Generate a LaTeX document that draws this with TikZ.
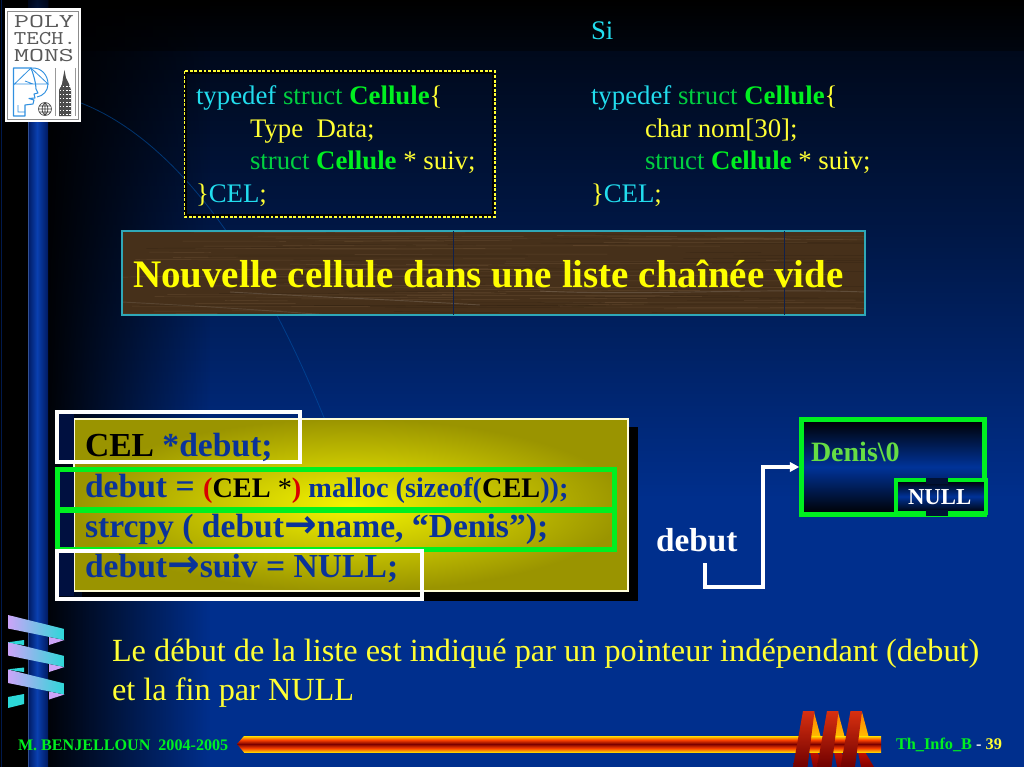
\documentclass[tikz,border=0pt]{standalone}
\usepackage{fontspec}
\setmainfont{Liberation Serif}
\newfontfamily\djv{DejaVu Sans}
\usetikzlibrary{fadings,arrows.meta}
\definecolor{bgblue}{HTML}{003399}
\definecolor{cy}{HTML}{22DDEE}
\definecolor{gr}{HTML}{00D040}
\definecolor{gb}{HTML}{00F020}
\definecolor{ye}{HTML}{FFFF33}
\definecolor{lime}{HTML}{00F020}
\definecolor{navy}{HTML}{001040}
\definecolor{pb}{HTML}{0A3399}
\definecolor{logob}{HTML}{3090E0}
\definecolor{ribp}{HTML}{CCA4F8}
\definecolor{ribm}{HTML}{B4A8F0}
\definecolor{ribc}{HTML}{2CD8D8}
\definecolor{wood}{HTML}{46301A}
\definecolor{bandedge}{HTML}{2FA8B8}
\definecolor{banddiv}{HTML}{10204A}
\definecolor{titley}{HTML}{FFFF00}
\definecolor{panelin}{HTML}{F4F400}
\definecolor{panelout}{HTML}{9A9400}
\definecolor{denisg}{HTML}{66DD44}
\definecolor{barye}{HTML}{FFE000}
\definecolor{barre}{HTML}{F84000}
\definecolor{bardk}{HTML}{7A0000}
\definecolor{legt}{HTML}{FF8000}
\definecolor{legm}{HTML}{FFC000}
\definecolor{legl}{HTML}{C01000}
\definecolor{legb}{HTML}{800000}
\definecolor{stript}{HTML}{D83010}
\definecolor{stripm}{HTML}{FF3800}
\definecolor{stripb}{HTML}{700000}
\definecolor{barc}{HTML}{0A40B0}
\definecolor{bare}{HTML}{001A60}
\newcommand\sz[1]{\fontsize{\the\dimexpr#1pt*3/4\relax}{\the\dimexpr#1pt\relax}\selectfont}
\tikzfading[name=fr, left color=transparent!0, right color=transparent!100]
\tikzfading[name=fd, top color=transparent!25, bottom color=transparent!100]
\tikzset{
 txt/.style={anchor=base west,inner sep=0pt,outer sep=0pt},
 codetext/.style={txt,text=ye,font=\sz{26.8}},
 paneltext/.style={txt,text=pb,font=\sz{33.6}\bfseries},
 whitebox/.style={draw=white,line width=3.6*.75pt},
 greenbox/.style={draw=lime,line width=5*.75pt},
 stub/.style={fill=navy},
 rib/.style={left color=ribp,middle color=ribm,right color=ribc},
 streak/.style={draw=#1,line width=.35pt},
 cell/.style={draw=lime,line width=4.5*.75pt,inner sep=0pt,top color=black,bottom color=black,middle color=bgblue},
 logotext/.style={text=black!65,font=\ttfamily\sz{19.5},inner sep=0pt},
}
\begin{document}
\begin{tikzpicture}[x=.75pt,y=-.75pt]
\useasboundingbox (0,0) rectangle (1024,767);
% background
\shade[top color=black,bottom color=black!90!bgblue] (0,0) rectangle (1024,52.5);
\shade[top color=black!82!bgblue,bottom color=black!55!bgblue] (0,52) rectangle (1024,230);
\shade[top color=black!55!bgblue,bottom color=black!8!bgblue] (0,230) rectangle (1024,500);
\fill[black!8!bgblue] (0,500) rectangle (1024,767);
% left fade
\fill[black] (0,0) rectangle (47,767);
\fill[black,path fading=fr,fill opacity=.95] (47,0) rectangle (210,767);
% vertical bar
\shade[left color=bare,right color=barc] (28,0) rectangle (37,767);
\shade[left color=barc,right color=bare] (37,0) rectangle (48,767);
\fill[black,path fading=fd] (28,0) rectangle (48,95);
\draw[black!50!bgblue,line width=.5pt] (1,0) -- (1,767);
\draw[bgblue!60!white,line width=.4pt,opacity=.5] (28,100) -- (28,767);
% arc
\draw[bgblue!85!cyan,line width=.6pt,opacity=.6] (81,103) .. controls (150,130) and (240,210) .. (325,420);
% logo
\node[fill=white,minimum width=76*.75pt,minimum height=114*.75pt,inner sep=0pt] (logo) at (43,65) {};
\node[draw=black!45,line width=.6pt,minimum width=71*.75pt,minimum height=108*.75pt,inner sep=0pt] (logoin) at (43,65) {};
\node[logotext,xscale=1.49] (lpoly) at (44,21.5) {POLY};
\node[logotext,xscale=1.24] (ltech) at (45,38.5) {TECH.};
\node[logotext,xscale=1.49] (lmons) at (44,55.5) {MONS};
\draw[logob,line width=.8pt,line join=round] (13.5,68) -- (31,68) .. controls (34,76) and (36,84) .. (36,89) -- (38,93) -- (34,94) -- (35,98) -- (29,98.5) -- (34,100) -- (33,104) -- (25,105) -- (25,116) -- (13.5,116) -- cycle;
\draw[logob,line width=.7pt] (31,68) .. controls (42,67) and (48,76) .. (48,84) .. controls (48,91) and (43,96) .. (37,97);
\draw[logob,line width=.6pt] (13.5,85) -- (31,68) -- (48,84) -- (13.5,84) (25,81) -- (33,84) (18,105) -- (18,112) -- (25,112);
\draw[black!75,line width=.5pt] (45,109) circle (6.5) (38.5,109) -- (51.5,109) (45,102.5) -- (45,115.5) (39.5,106) -- (50.5,106) (39.5,112) -- (50.5,112) (45,102.5) .. controls (41,106) and (41,112) .. (45,115.5) (45,102.5) .. controls (49,106) and (49,112) .. (45,115.5);
\draw[black!40,line width=.5pt] (55,68) -- (55,116) (75,68) -- (75,116);
\fill[black!70] (64.5,70) -- (66,78) -- (69,84) -- (71,90) -- (71,116) -- (59,116) -- (59,90) -- (62,84) -- (63,78) -- cycle;
\foreach \yy in {86,90,...,114}{\draw[white,line width=.5pt,dash pattern=on 1.2pt off 1.2pt] (59.5,\yy) -- (70.5,\yy);}
% struct box
\node[draw=black,line width=1.6pt,minimum width=308*.75pt,minimum height=143*.75pt,inner sep=0pt] (structbox) at (339.5,144) {};
\draw[ye,line width=1.4pt,dash pattern=on 2.2pt off 1.2pt] (structbox.north west) rectangle (structbox.south east);
\node[codetext] (l1) at (196,104.5) {\textcolor{cy}{typedef} \textcolor{gr}{struct} \textcolor{gb}{\bfseries Cellule}\{};
\node[codetext] (l2) at (250,137.5) {Type\ \ Data;};
\node[codetext] (l3) at (250,169.5) {\textcolor{gr}{struct} \textcolor{gb}{\bfseries Cellule} * suiv;};
\node[codetext] (l4) at (196,202.5) {\}\textcolor{cy}{CEL};};
\node[codetext,text=cy] (si) at (591,40) {Si};
\node[codetext] (r1) at (591,104.5) {\textcolor{cy}{typedef} \textcolor{gr}{struct} \textcolor{gb}{\bfseries Cellule}\{};
\node[codetext] (r2) at (645,137.5) {char nom[30];};
\node[codetext] (r3) at (645,169.5) {\textcolor{gr}{struct} \textcolor{gb}{\bfseries Cellule} * suiv;};
\node[codetext] (r4) at (591,202.5) {\}\textcolor{cy}{CEL};};
% wood band
\begin{scope}
\clip (122,231) rectangle (865,315);
\fill[wood] (122,231) rectangle (865,315);
\pgfmathsetseed{7}
\foreach \i in {1,...,110}{
  \pgfmathsetmacro\ya{232+rnd*82}
  \pgfmathsetmacro\xa{100+rnd*700}
  \pgfmathsetmacro\xl{60+rnd*260}
  \pgfmathsetmacro\dy{rnd*2-1}
  \pgfmathsetmacro\mixv{int(rnd*2)}
  \ifnum\mixv=0
  \draw[streak=brown!70!white,opacity=.16] (\xa,\ya) -- (\xa+\xl,\ya+\dy);
  \else
  \draw[streak=black,opacity=.14] (\xa,\ya) -- (\xa+\xl,\ya+\dy);
  \fi
}
\draw[white,opacity=.14,line width=.7pt] (230,292) .. controls (300,296) and (400,300) .. (480,305);
\draw[white,opacity=.14,line width=.7pt] (540,291) .. controls (640,296) and (760,288) .. (865,292);
\draw[white,opacity=.1,line width=.7pt] (122,302) .. controls (200,306) and (260,310) .. (330,315);
\end{scope}
\node[draw=bandedge,line width=1.3pt,minimum width=743*.75pt,minimum height=84*.75pt,inner sep=0pt] (band) at (493.5,273) {};
\draw[banddiv,line width=.6pt] (453,231) -- (453,315) (784,231) -- (784,315);
\node[txt,text=titley,font=\sz{39}\bfseries] (title) at (133,287) {Nouvelle cellule dans une liste chaînée vide};
% panel
\fill[black] (82,427) rectangle (638,601);
\node[draw=white!85!yellow,line width=1.1pt,inner sep=0pt,inner color=panelin,outer color=panelout,minimum width=554*.75pt,minimum height=172*.75pt] (panel) at (351,505) {};
\fill[stub] (58,414) rectangle (73.5,460);
\fill[stub] (58,471) rectangle (73.5,507);
\fill[stub] (58,511) rectangle (73.5,548);
\fill[stub] (58,552) rectangle (73.5,596);
\node[greenbox,minimum width=557*.75pt,minimum height=40*.75pt,inner sep=0pt] (gb1) at (335.5,489) {};
\node[greenbox,minimum width=557*.75pt,minimum height=39*.75pt,inner sep=0pt] (gb2) at (335.5,529.5) {};
\node[whitebox,minimum width=243*.75pt,minimum height=50*.75pt,inner sep=0pt] (wb1) at (178.5,437) {};
\node[whitebox,minimum width=365*.75pt,minimum height=48*.75pt,inner sep=0pt] (wb2) at (239.5,575) {};
\node[paneltext] (p1) at (85,456) {\textcolor{black}{CEL} *debut;};
\node[paneltext] (p2) at (85,497) {debut = {\sz{28.3}\textcolor{red!85!black}{(}\textcolor{black}{CEL} \textcolor{black}{\mdseries *}\textcolor{red!85!black}{)} malloc (sizeof(\textcolor{black}{CEL}));}};
\node[paneltext] (p3) at (85,537) {strcpy ( debut{\djv\sz{39}→}name, “Denis”);};
\node[paneltext] (p4) at (85,577) {debut{\djv\sz{39}→}suiv = NULL;};
% cell diagram
\node[cell,minimum width=183*.75pt,minimum height=95*.75pt] (cellbox) at (893,467) {};
\node[cell,minimum width=90*.75pt,minimum height=33*.75pt] (nullbox) at (941,496.5) {};
\fill[black!65!bgblue] (926,478) rectangle (948,484);
\fill[black!65!bgblue] (926,509.5) rectangle (948,516);
\node[txt,text=denisg,font=\sz{28}\bfseries] (denis) at (811,461) {Denis\textbackslash 0};
\node[txt,text=white,font=\sz{22.8}\bfseries] (nulltxt) at (908,504.5) {NULL};
\node[txt,text=white,font=\sz{33.3}\bfseries] (debutlbl) at (656,551) {debut};
\coordinate (ptrstart) at (705,563);
\coordinate (ptrmid) at (763,587);
\draw[white,line width=2.4pt,-{Triangle[length=7pt,width=7pt]}] (ptrstart) |- (ptrmid) |- (cellbox.west);
% bottom text
\node[txt,text=ye,font=\sz{32.3}] (b1) at (112,661.5) {Le début de la liste est indiqué par un pointeur indépendant (debut)};
\node[txt,text=ye,font=\sz{32.3}] (b2) at (112,700.5) {et la fin par NULL};
% ribbons
\foreach \d in {0,27,54.5}{
  \fill[ribp] (49,637+\d) -- (64.5,640+\d) -- (49,645+\d) -- cycle;
  \shade[rib] (8,615+\d) -- (64.5,629+\d) -- (64.5,640+\d) -- (8,628.5+\d) -- cycle;
}
\fill[ribc] (8,642.3) -- (24,640) -- (24,645) -- (16,644) -- cycle;
\fill[ribc] (8,669.3) -- (24,667.5) -- (24,672) -- (16,671) -- cycle;
\fill[ribc] (8,697) -- (24,694) -- (24,704) -- (8,708) -- cycle;
% footer
\node[txt,text=lime,font=\sz{16.1}\bfseries] (fl) at (18,750) {M. BENJELLOUN\ \ 2004-2005};
\foreach \o in {0,24,48}{
  \shade[top color=legt,bottom color=legm] (814+\o,712) -- (821+\o,738) -- (806+\o,738) -- cycle;
  \shade[top color=legl,bottom color=legb] (817+\o,752) -- (826+\o,767) -- (813+\o,767) -- (810+\o,752) -- cycle;
}
\shade[top color=barye,bottom color=bardk,middle color=barre] (244,736) rectangle (881,744);
\shade[top color=bardk,bottom color=barye,middle color=barre] (244,744) rectangle (881,752.5);
\shade[top color=barye,bottom color=bardk,middle color=barre] (237,744) -- (244,736) -- (245,736) -- (245,744) -- cycle;
\shade[top color=bardk,bottom color=barye,middle color=barre] (237,744) -- (244,752.5) -- (245,752.5) -- (245,744) -- cycle;
\foreach \o in {0,24,47.5}{
  \shade[top color=stript,middle color=stripm,bottom color=stripb] (803+\o,711) -- (814.5+\o,711) -- (807.5+\o,767) -- (793+\o,767) -- cycle;
}
\node[txt,font=\sz{16.3}\bfseries] (fr) at (896,749) {\textcolor{lime}{Th\_Info\_B} \textcolor{white}{-} \textcolor{ye}{39}};
\end{tikzpicture}
\end{document}
